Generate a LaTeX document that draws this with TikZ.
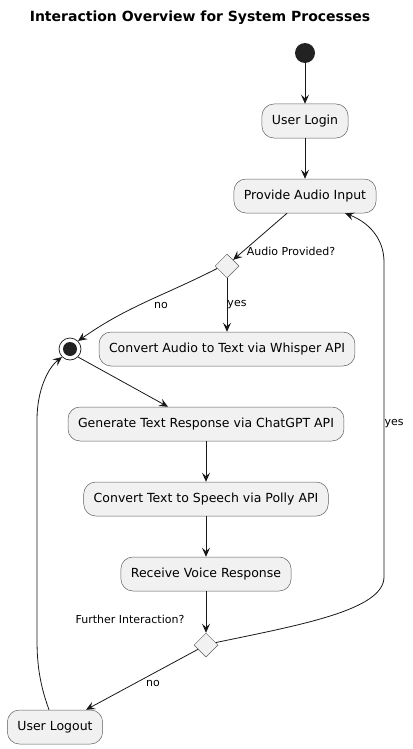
\documentclass[tikz,border=0pt]{standalone}
\usepackage{fontspec}
\setmainfont{DejaVu Sans}
\usetikzlibrary{arrows.meta, shapes.geometric, calc}
\definecolor{actfill}{HTML}{F1F1F1}
\definecolor{actline}{HTML}{181818}
\definecolor{dotfill}{HTML}{222222}

\begin{document}
\begin{tikzpicture}[x=1pt, y=1pt,
    activity/.style={draw=actline!70, line width=0.5pt, fill=actfill, rounded corners=12pt,
        minimum height=34pt, inner xsep=10pt, font=\fontsize{12.5}{14}\selectfont},
    branch/.style={diamond, draw=actline!70, line width=0.5pt, fill=actfill,
        minimum size=24pt, inner sep=0pt},
    flow/.style={-{Stealth[length=9pt, width=8pt, inset=3.5pt]}, line width=0.8pt, actline},
    guard/.style={font=\fontsize{11}{13}\selectfont, inner sep=0pt}]
    \useasboundingbox (0,0) rectangle (412,-749);

    % Title
    \node[font=\fontsize{14}{16}\selectfont\bfseries] (title) at (200,-18) {Interaction Overview for System Processes};

    % Start and merge points
    \node[circle, fill=dotfill, minimum size=20pt, inner sep=0pt] (start) at (305,-53) {};
    \node[circle, draw=actline, line width=0.7pt, fill=white, minimum size=22pt, inner sep=0pt] (merge) at (70,-349) {};
    \fill[dotfill] (merge.center) circle (7pt);

    % Activities
    \node[activity] (login) at (305,-121) {User Login};
    \node[activity] (audio) at (305,-196) {Provide Audio Input};
    \node[activity] (whisper) at (227,-349) {Convert Audio to Text via Whisper API};
    \node[activity] (chatgpt) at (206,-424) {Generate Text Response via ChatGPT API};
    \node[activity] (polly) at (206,-499) {Convert Text to Speech via Polly API};
    \node[activity] (voice) at (206,-574) {Receive Voice Response};
    \node[activity] (logout) at (55,-727) {User Logout};

    % Decisions
    \node[branch] (provided) at (227,-266) {};
    \node[branch] (further) at (206,-645) {};

    % Straight flows
    \draw[flow] (start) -- (login);
    \draw[flow] (login) -- (audio);
    \draw[flow] ($(audio.south)+(-18,0)$) -- (provided.north east);
    \draw[flow] (provided.south) -- (whisper.north);
    \draw[flow] (merge.south east) -- ($(chatgpt.north)+(-38,0)$);
    \draw[flow] (chatgpt) -- (polly);
    \draw[flow] (polly) -- (voice);
    \draw[flow] (voice) -- (further.north);
    \draw[flow] ($(further.south west)!0.3!(further.west)$) -- ($(logout.north)+(31,0)$);

    % Curved flows
    \draw[flow] ($(provided.south west)!0.6!(provided.west)$) to[out=207, in=35] (merge.north east);
    \draw[flow] ($(logout.north)+(-6,0)$) .. controls (40,-685) and (37,-665) .. (37,-640)
        -- (37,-420) .. controls (37,-390) and (48,-368) .. (merge.south west);
    \draw[flow] ($(further.north east)!0.6!(further.east)$) .. controls (300,-625) and (384,-610) .. (384,-577)
        -- (384,-262) .. controls (384,-238) and (368,-222) .. ($(audio.south)+(40,0)$);

    % Guards
    \node[guard] (lblprovided) at (291,-251) {Audio Provided?};
    \node[guard] (lblyes1) at (237,-305) {yes};
    \node[guard] (lblno1) at (161,-305) {no};
    \node[guard] (lblfurther) at (130,-619) {Further Interaction?};
    \node[guard] (lblno2) at (153,-683) {no};
    \node[guard] (lblyes2) at (394,-424) {yes};
\end{tikzpicture}
\end{document}
